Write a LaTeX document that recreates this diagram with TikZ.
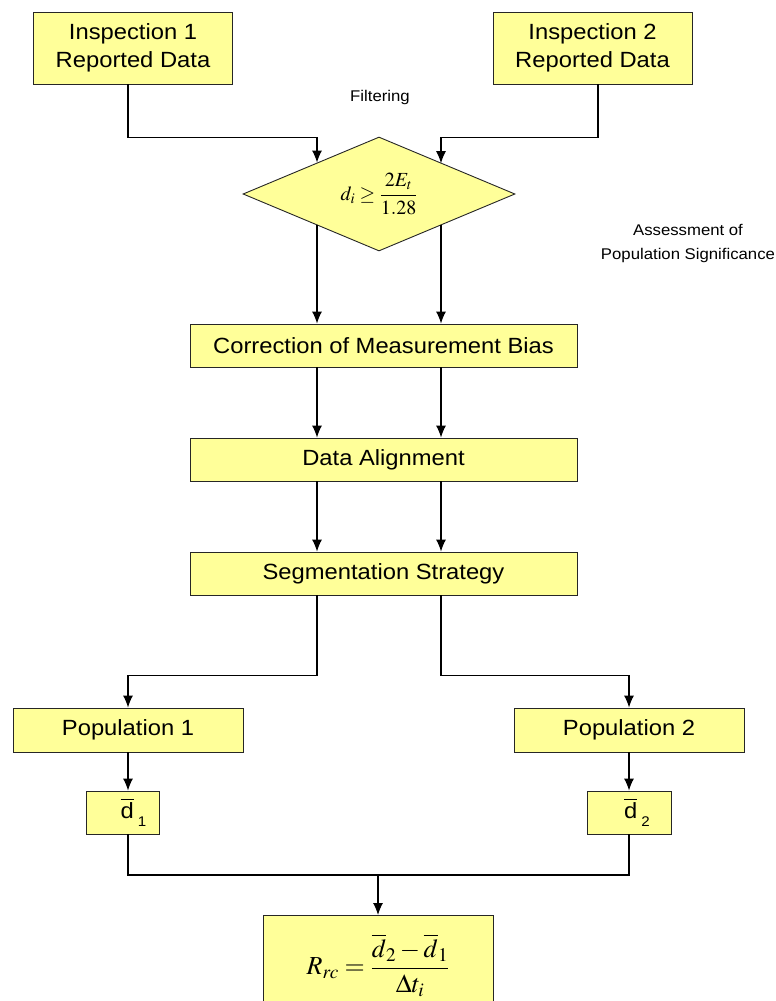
\documentclass[tikz,border=0pt]{standalone}
\usepackage{mathptmx}
\usepackage[no-math]{fontspec}
\setmainfont{Liberation Sans}[FakeStretch=1.08]
\usetikzlibrary{shapes.geometric,arrows.meta}
\definecolor{boxfill}{RGB}{255,255,153}

\begin{document}
\begin{tikzpicture}[x=1pt,y=-1pt,>={Latex[length=12pt,width=10pt]},line width=1.1pt,
	block/.style={draw=black!85,line width=0.9pt,fill=boxfill,inner sep=0pt,align=center,
		font=\fontsize{22}{28}\selectfont},
	decision/.style={diamond,draw=black!85,line width=0.9pt,fill=boxfill,inner sep=0pt,
		minimum width=272pt,minimum height=114pt,shape aspect=2.39,font=\fontsize{20}{24}\selectfont},
	note/.style={align=center,font=\fontsize{15.5}{24}\selectfont}]
	\useasboundingbox (0,0) rectangle (776,1001);

	\node[block,minimum width=199pt,minimum height=72pt] (insp1) at (133,48) {Inspection 1\\Reported Data};
	\node[block,minimum width=199pt,minimum height=72pt] (insp2) at (592.5,48) {Inspection 2\\Reported Data};
	\node[note] (filt) at (380,97) {Filtering};
	\node[decision] (filter) at (379,194) {$d_i \geq \displaystyle\frac{2E_t}{1.28}$};
	\node[note] (assess) at (688,243) {Assessment of\\Population Significance};

	\node[block,minimum width=387pt,minimum height=43pt] (corr) at (383.5,345.5) {Correction of Measurement Bias};
	\node[block,minimum width=387pt,minimum height=43pt] (align) at (383.5,459.5) {Data Alignment};
	\node[block,minimum width=387pt,minimum height=43pt] (seg) at (383.5,573.5) {Segmentation Strategy};

	\node[block,minimum width=230pt,minimum height=44pt] (pop1) at (128,730) {Population 1};
	\node[block,minimum width=230pt,minimum height=44pt] (pop2) at (629,730) {Population 2};

	\node[block,minimum width=73pt,minimum height=43pt] (d1) at (122.5,812.5)
		{\hspace*{22pt}$\overline{\mbox{d}}$\hspace{4pt}\raisebox{-8pt}{\fontsize{14}{14}\selectfont 1}};
	\node[block,minimum width=84pt,minimum height=43pt] (d2) at (629,812.5)
		{\hspace*{16pt}$\overline{\mbox{d}}$\hspace{4pt}\raisebox{-8pt}{\fontsize{14}{14}\selectfont 2}};

	\node[block,minimum width=230pt,minimum height=100pt,anchor=north,font=\fontsize{26}{30}\selectfont] (rate) at (378,915)
		{$R_{rc}=\displaystyle\frac{\overline{d}_{2}-\overline{d}_{1}}{\Delta t_i}$};

	\coordinate (lft) at (317,0);
	\coordinate (rgt) at (441,0);
	\coordinate (join) at (378,875);

	% filtering
	\draw[->] ([xshift=-5]insp1.south) -- ++(0,53) -| (lft |- filter.153.43);
	\draw[->] ([xshift=5.5]insp2.south) -- ++(0,53) -| (rgt |- filter.26.57);

	% main chain
	\draw[->] (lft |- filter.206.57) -- (corr.north -| lft);
	\draw[->] (rgt |- filter.333.43) -- (corr.north -| rgt);
	\draw[->] (corr.south -| lft) -- (align.north -| lft);
	\draw[->] (corr.south -| rgt) -- (align.north -| rgt);
	\draw[->] (align.south -| lft) -- (seg.north -| lft);
	\draw[->] (align.south -| rgt) -- (seg.north -| rgt);

	% populations
	\draw[->] (seg.south -| lft) -- ++(0,80) -| (pop1.north);
	\draw[->] (seg.south -| rgt) -- ++(0,80) -| (pop2.north);
	\draw[->] (pop1.south) -- (d1.north -| pop1.south);
	\draw[->] (pop2.south) -- (d2.north);

	% rate of change
	\draw (d1.south -| pop1.south) |- (join) -| (d2.south);
	\draw[->] (join) -- (rate.north);

\end{tikzpicture}
\end{document}
